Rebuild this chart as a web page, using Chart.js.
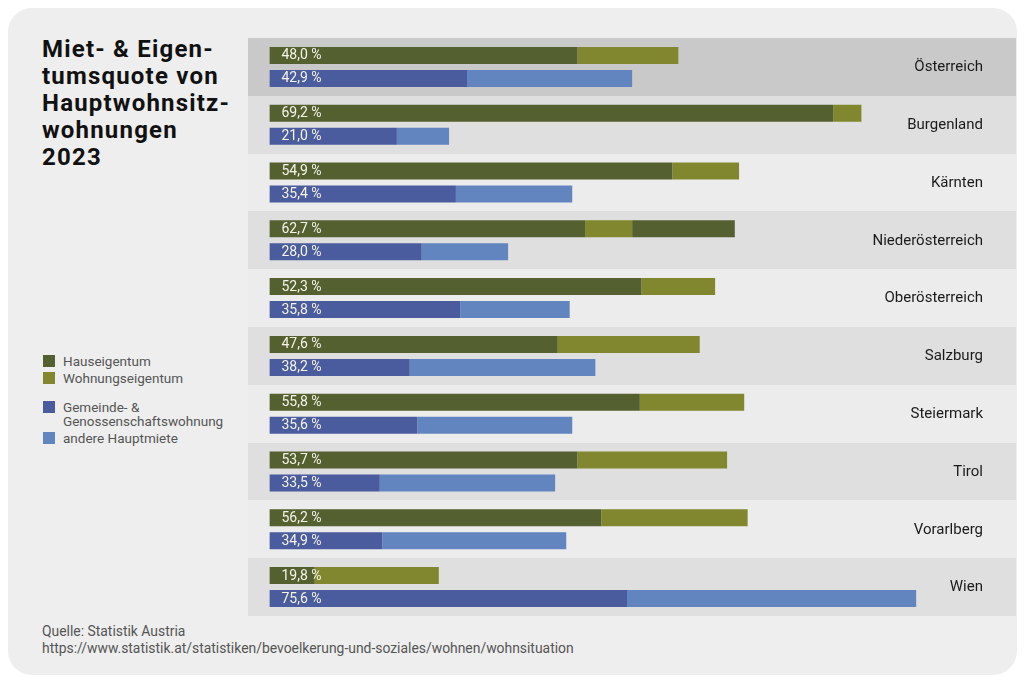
<!DOCTYPE html>
<html>
<head>
<meta charset="utf-8">
<script src="https://cdn.jsdelivr.net/npm/chart.js@4"></script>
<style>
  html, body { margin:0; padding:0; background:#ffffff; width:1024px; height:683px; overflow:hidden; font-family: Roboto, "Open Sans", sans-serif; }
  #panel { position:absolute; left:8px; top:8px; width:1009px; height:667px; background:#eeeeee; border-radius:24px; }
  #title { position:absolute; left:42px; top:36px; font-weight:700; font-size:24px; line-height:27px; color:#111; letter-spacing:1.2px; }
  .sw { position:absolute; left:43px; width:12px; height:12px; }
  .lt { position:absolute; left:63px; font-size:13.5px; color:#555; line-height:14px; }
  #src { position:absolute; left:42px; top:623px; font-size:13.9px; line-height:16.5px; color:#555; }
  #wrap { position:absolute; left:248px; top:38px; width:768px; height:578px; }
</style>
</head>
<body>
<div id="panel"></div>
<div id="title">Miet- &amp; Eigen-<br>tumsquote von<br>Hauptwohnsitz-<br>wohnungen<br>2023</div>

<div class="sw" style="top:355px;background:#556030"></div>
<div class="lt" style="top:354px">Hauseigentum</div>
<div class="sw" style="top:372px;background:#80872e"></div>
<div class="lt" style="top:371px">Wohnungseigentum</div>
<div class="sw" style="top:401px;background:#4a5b9e"></div>
<div class="lt" style="top:400px">Gemeinde- &amp;<br>Genossenschaftswohnung</div>
<div class="sw" style="top:432px;background:#6285bf"></div>
<div class="lt" style="top:431px">andere Hauptmiete</div>

<div id="src">Quelle: Statistik Austria<br>https://www.statistik.at/statistiken/bevoelkerung-und-soziales/wohnen/wohnsituation</div>

<div id="wrap"><canvas id="c"></canvas></div>

<script>
const regions = ['Österreich','Burgenland','Kärnten','Niederösterreich','Oberösterreich','Salzburg','Steiermark','Tirol','Vorarlberg','Wien'];
const hauseigentum     = [36.0, 65.9, 47.1, 36.9, 43.5, 33.7, 43.3, 36.0, 38.8, 5.3];
const wohnungseigentum = [11.8, 3.3, 7.8, 5.5, 8.6, 16.6, 12.2, 17.5, 17.1, 14.5];
const hauseigentumRest = [0, 0, 0, 12.0, 0, 0, 0, 0, 0, 0];
const gemeindeGenossenschaft = [23.1, 14.9, 21.8, 17.8, 22.3, 16.4, 17.3, 12.9, 13.2, 41.8];
const andereHauptmiete = [19.3, 6.1, 13.6, 10.1, 12.8, 21.7, 18.1, 20.5, 21.5, 33.8];
const eigentumLabels = ['48,0 %','69,2 %','54,9 %','62,7 %','52,3 %','47,6 %','55,8 %','53,7 %','56,2 %','19,8 %'];
const mieteLabels    = ['42,9 %','21,0 %','35,4 %','28,0 %','35,8 %','38,2 %','35,6 %','33,5 %','34,9 %','75,6 %'];

const rowColors = ['#c9c9c9','#dfdfdf','#ececec','#dfdfdf','#ececec','#dfdfdf','#ececec','#dfdfdf','#ececec','#dfdfdf'];

const rowBg = {
  id: 'rowBg',
  beforeDatasetsDraw(chart) {
    const {ctx} = chart; const y = chart.scales.y;
    const pitch = y.getPixelForValue(1) - y.getPixelForValue(0);
    ctx.save();
    regions.forEach((r, i) => {
      const c = y.getPixelForValue(i);
      ctx.fillStyle = rowColors[i];
      ctx.fillRect(0, Math.round(c - pitch/2), chart.width, Math.round(c + pitch/2) - Math.round(c - pitch/2));
    });
    ctx.restore();
  }
};

const labelsPlugin = {
  id: 'labelsPlugin',
  afterDatasetsDraw(chart) {
    const {ctx} = chart; const y = chart.scales.y;
    ctx.save();
    ctx.textBaseline = 'middle';
    ctx.font = '14px Roboto';
    ctx.fillStyle = '#f4f4e8';
    ctx.textAlign = 'left';
    const m0 = chart.getDatasetMeta(0), m3 = chart.getDatasetMeta(3);
    regions.forEach((r, i) => {
      const b0 = m0.data[i], b3 = m3.data[i];
      ctx.fillText(eigentumLabels[i], b0.base + 12, b0.y + 0.5);
      ctx.fillText(mieteLabels[i], b3.base + 12, b3.y + 0.5);
    });
    ctx.font = '15px Roboto';
    ctx.fillStyle = '#1a1a1a';
    ctx.textAlign = 'right';
    regions.forEach((r, i) => {
      ctx.fillText(r, chart.width - 33, y.getPixelForValue(i) + 0.5);
    });
    ctx.restore();
  }
};

new Chart(document.getElementById('c'), {
  type: 'bar',
  data: {
    labels: regions,
    datasets: [
      { label: 'Hauseigentum', data: hauseigentum, backgroundColor: '#556030', stack: 'eigentum' },
      { label: 'Wohnungseigentum', data: wohnungseigentum, backgroundColor: '#80872e', stack: 'eigentum' },
      { label: 'Hauseigentum', data: hauseigentumRest, backgroundColor: '#556030', stack: 'eigentum' },
      { label: 'Gemeinde- & Genossenschaftswohnung', data: gemeindeGenossenschaft, backgroundColor: '#4a5b9e', stack: 'miete' },
      { label: 'andere Hauptmiete', data: andereHauptmiete, backgroundColor: '#6285bf', stack: 'miete' }
    ]
  },
  options: {
    indexAxis: 'y',
    responsive: true,
    maintainAspectRatio: false,
    animation: false,
    layout: { padding: { left: 21.4, right: 2.3, top: 0, bottom: 0 } },
    datasets: { bar: { categoryPercentage: 0.796, barPercentage: 0.74, borderWidth: 0 } },
    scales: {
      x: { display: false, stacked: true, min: 0, max: 87, grid: { display: false } },
      y: { display: false, stacked: true, grid: { display: false } }
    },
    plugins: { legend: { display: false }, tooltip: { enabled: false } }
  },
  plugins: [rowBg, labelsPlugin]
});
</script>
</body>
</html>
